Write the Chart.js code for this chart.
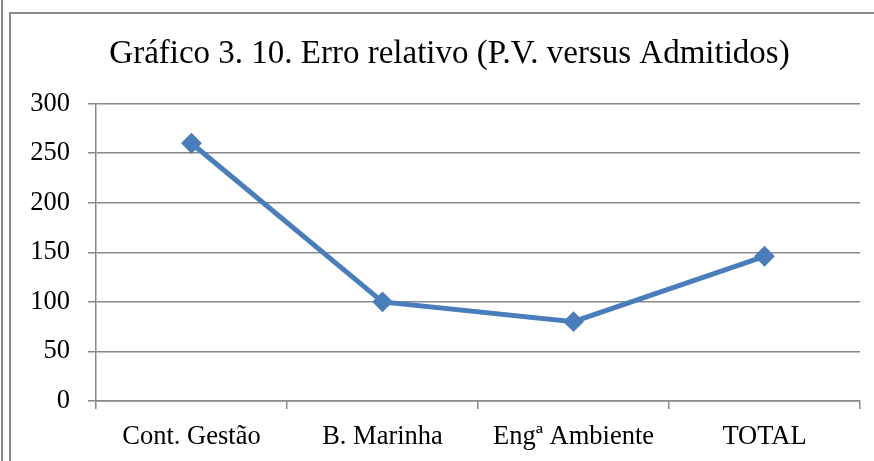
<!DOCTYPE html>
<html>
<head>
<meta charset="utf-8">
<script src="https://cdn.jsdelivr.net/npm/chart.js@4"></script>
<style>
  html, body { margin: 0; padding: 0; background: #fff; }
  #wrap { width: 874px; height: 461px; position: relative; }
</style>
</head>
<body>
<div id="wrap"><canvas id="chart" width="874" height="461"></canvas></div>
<script>
const categories = ['Cont. Gestão', 'B. Marinha', 'Engª Ambiente', 'TOTAL'];
const erroRelativo = [260, 100, 80, 146];
const yTicks = [0, 50, 100, 150, 200, 250, 300];
const chartTitle = 'Gráfico 3. 10. Erro relativo (P.V. versus Admitidos)';

const FONT = 'Liberation Serif';
const GRID = '#888888';

// frame lines around the chart (like the Word object border)
const framePlugin = {
  id: 'frame',
  beforeDraw(chart) {
    const ctx = chart.ctx;
    ctx.save();
    ctx.strokeStyle = '#8a8a8a';
    ctx.lineWidth = 2;
    ctx.beginPath();
    ctx.moveTo(2, 0);
    ctx.lineTo(2, 461);
    ctx.moveTo(10, 461);
    ctx.lineTo(10, 13);
    ctx.lineTo(874, 13);
    ctx.stroke();
    ctx.restore();
  }
};

// center the title over the plot region instead of the whole canvas
const titleShift = {
  id: 'titleShift',
  afterLayout(chart) {
    if (chart.titleBlock) {
      chart.titleBlock.left = 39;
      chart.titleBlock.right = chart.chartArea.right;
    }
  }
};

new Chart(document.getElementById('chart'), {
  type: 'line',
  data: {
    labels: categories,
    datasets: [{
      label: 'Erro relativo',
      data: erroRelativo,
      borderColor: '#4a7ebb',
      backgroundColor: '#4a7ebb',
      borderWidth: 5,
      pointStyle: 'rectRot',
      pointRadius: 9,
      pointBorderWidth: 2,
      tension: 0
    }]
  },
  options: {
    responsive: false,
    animation: false,
    layout: { padding: { left: 0, right: 14, top: 0, bottom: 0 } },
    plugins: {
      legend: { display: false },
      tooltip: { enabled: false },
      title: {
        display: true,
        text: chartTitle,
        color: '#000',
        font: { family: FONT, size: 33, weight: 'normal' },
        padding: { top: 35, bottom: 29 }
      }
    },
    scales: {
      x: {
        offset: true,
        grid: { offset: true, drawOnChartArea: false, drawTicks: true, tickLength: 8, color: GRID, lineWidth: 1.5 },
        border: { color: GRID, width: 1.5 },
        ticks: { color: '#000', font: { family: FONT, size: 26.5 }, padding: 12, maxRotation: 0 },
        afterFit(scale) { scale.height = 60; }
      },
      y: {
        min: 0,
        max: 300,
        afterBuildTicks(scale) { scale.ticks = yTicks.map(v => ({ value: v })); },
        grid: { color: GRID, lineWidth: 1.5, tickLength: 8 },
        border: { color: GRID, width: 1.5 },
        ticks: { color: '#000', font: { family: FONT, size: 26.5 }, padding: 18 },
        afterFit(scale) { scale.width = 96; }
      }
    }
  },
  plugins: [framePlugin, titleShift]
});
</script>
</body>
</html>
